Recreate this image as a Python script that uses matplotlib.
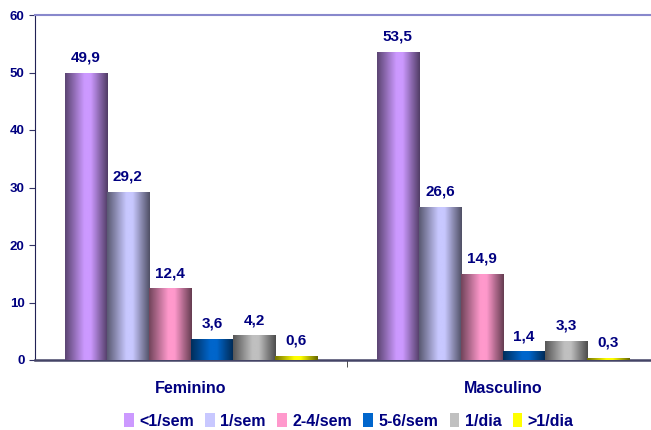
import numpy as np
import matplotlib
matplotlib.use("Agg")
import matplotlib.pyplot as plt
from matplotlib.colors import LinearSegmentedColormap, to_rgb
from matplotlib.patches import Patch

plt.rcParams['font.family'] = ['Liberation Sans', 'DejaVu Sans']

categories = ["Feminino", "Masculino"]
series = ["<1/sem", "1/sem", "2-4/sem", "5-6/sem", "1/dia", ">1/dia"]
values = {
    "<1/sem": [49.9, 53.5],
    "1/sem": [29.2, 26.6],
    "2-4/sem": [12.4, 14.9],
    "5-6/sem": [3.6, 1.4],
    "1/dia": [4.2, 3.3],
    ">1/dia": [0.6, 0.3],
}
colors = ["#CC99FF", "#C8C8FF", "#FF99CC", "#0066CC", "#C0C0C0", "#FFFF00"]
navy = "#000080"

fig = plt.figure(figsize=(6.51, 4.30), dpi=100)
ax = fig.add_axes([35/651, 1-360/430, 624/651, 345/430])

def shade(c, f):
    r, g, b = to_rgb(c)
    return (r*f, g*f, b*f)

x = np.arange(len(categories))
w = 0.135
n = len(series)
grad = np.linspace(0, 1, 64)[None, :]
for i, s in enumerate(series):
    pos = x + (i - (n-1)/2) * w
    bars = ax.bar(pos, values[s], w, color=colors[i], edgecolor='none', zorder=2)
    cmap = LinearSegmentedColormap.from_list(
        s, [(0, shade(colors[i], 0.45)), (0.45, colors[i]),
            (0.6, colors[i]), (1, shade(colors[i], 0.4))])
    for b, v in zip(bars, values[s]):
        x0 = b.get_x()
        ax.imshow(grad, extent=[x0, x0 + w, 0, v], aspect='auto', cmap=cmap,
                  zorder=3, interpolation='bicubic')
        ax.text(x0 + w/2, v + 1.5, f"{v:.1f}".replace('.', ','), ha='center',
                va='bottom', color=navy, fontsize=11, fontweight='bold', zorder=4)

ax.set_xlim(-0.5, 1.5)
ax.set_ylim(0, 60)
ax.set_yticks(range(0, 61, 10))
ax.set_xticks(x)
ax.set_xticklabels(categories)
ax.set_xticks([0.5], minor=True)
ax.tick_params(axis='x', which='major', length=0, pad=15)
ax.tick_params(axis='x', which='minor', length=5, color='#333333')
ax.tick_params(axis='y', length=4, color='#333366')
for lab in ax.get_xticklabels() + ax.get_yticklabels():
    lab.set_color(navy)
    lab.set_fontweight('bold')
for lab in ax.get_xticklabels():
    lab.set_fontsize(11.5)
for lab in ax.get_yticklabels():
    lab.set_fontsize(9.5)

ax.spines['right'].set_visible(False)
ax.spines['top'].set_color('#8888CC')
ax.spines['top'].set_linewidth(1.5)
ax.spines['left'].set_color('#222255')
ax.spines['bottom'].set_color('#444466')
ax.spines['bottom'].set_linewidth(1.8)

handles = [Patch(facecolor=c, edgecolor='none', label=s) for c, s in zip(colors, series)]
leg = fig.legend(handles=handles, loc='center', bbox_to_anchor=(349/651, 1-421/430),
                 ncol=6, frameon=False, handlelength=0.6, handleheight=0.9,
                 handletextpad=0.35, columnspacing=0.7,
                 prop={'weight': 'bold', 'size': 11.5})
for t in leg.get_texts():
    t.set_color(navy)

fig.savefig("out.png", dpi=100)
